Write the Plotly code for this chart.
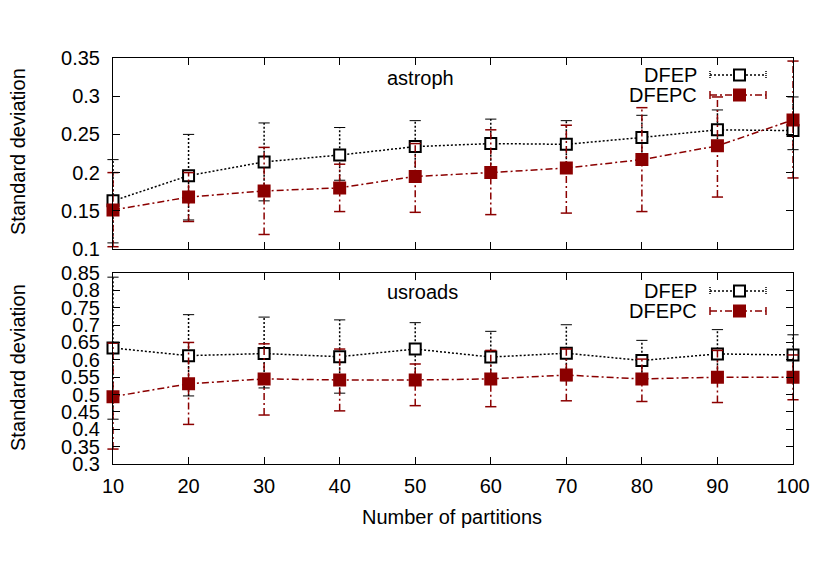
import plotly.graph_objects as go

partitions = [10, 20, 30, 40, 50, 60, 70, 80, 90, 100]

astro_dfep = [0.163, 0.196, 0.214, 0.223, 0.234, 0.238, 0.237, 0.246, 0.256, 0.255]
astro_dfep_hi = [0.217, 0.250, 0.265, 0.259, 0.268, 0.270, 0.268, 0.275, 0.282, 0.299]
astro_dfep_lo = [0.108, 0.138, 0.163, 0.190, 0.201, 0.205, 0.207, 0.216, 0.228, 0.230]
astro_dfepc = [0.151, 0.168, 0.176, 0.180, 0.195, 0.200, 0.206, 0.217, 0.235, 0.269]
astro_dfepc_hi = [0.200, 0.200, 0.233, 0.211, 0.238, 0.256, 0.262, 0.285, 0.299, 0.346]
astro_dfepc_lo = [0.103, 0.136, 0.119, 0.149, 0.148, 0.145, 0.147, 0.149, 0.168, 0.193]

roads_dfep = [0.634, 0.612, 0.618, 0.609, 0.631, 0.608, 0.619, 0.598, 0.617, 0.614]
roads_dfep_hi = [0.838, 0.730, 0.723, 0.715, 0.707, 0.682, 0.701, 0.656, 0.687, 0.672]
roads_dfep_lo = [0.429, 0.496, 0.519, 0.504, 0.550, 0.535, 0.540, 0.540, 0.550, 0.555]
roads_dfepc = [0.494, 0.531, 0.545, 0.542, 0.542, 0.545, 0.556, 0.545, 0.550, 0.550]
roads_dfepc_hi = [0.648, 0.650, 0.646, 0.631, 0.588, 0.627, 0.631, 0.602, 0.627, 0.614]
roads_dfepc_lo = [0.343, 0.414, 0.441, 0.453, 0.468, 0.465, 0.482, 0.480, 0.477, 0.485]

W, H = 830, 581
OFF = 8  # the page body margin shifts the figure
FONT = 'Liberation Sans, Arial, sans-serif'
FS = 20
RED = 'rgb(139, 0, 0)'
DOT = '2px,2px'
DASHDOT = '7px,3px,2px,3px'


def px(x):
    return (x - OFF) / W


def py(y):
    return 1 - (y - OFF) / H


def err_segments(xs, lo, hi):
    ex, ey = [], []
    for x, a, b in zip(xs, lo, hi):
        ex += [x, x, None]
        ey += [a, b, None]
    return ex, ey


def add_series(fig, xa, ya, ys, lo, hi, color, dash, symbol, fill):
    ex, ey = err_segments(partitions, lo, hi)
    fig.add_trace(go.Scatter(x=ex, y=ey, mode='lines', xaxis=xa, yaxis=ya,
                             line=dict(color=color, width=1.5, dash=dash),
                             cliponaxis=False, hoverinfo='skip', showlegend=False))
    fig.add_trace(go.Scatter(x=partitions + partitions, y=lo + hi, mode='markers',
                             xaxis=xa, yaxis=ya, cliponaxis=False,
                             marker=dict(symbol='line-ew', size=8,
                                         line=dict(color=color, width=1.5 if fill != 'white' else 1)),
                             hoverinfo='skip', showlegend=False))
    fig.add_trace(go.Scatter(x=partitions, y=ys, mode='lines+markers', xaxis=xa, yaxis=ya,
                             line=dict(color=color, width=1.5, dash=dash),
                             marker=dict(symbol=symbol, size=11, color=fill,
                                         line=dict(color=color, width=2)),
                             cliponaxis=False, showlegend=False))


fig = go.Figure()
add_series(fig, 'x', 'y', astro_dfep, astro_dfep_lo, astro_dfep_hi,
           'black', DOT, 'square', 'white')
add_series(fig, 'x', 'y', astro_dfepc, astro_dfepc_lo, astro_dfepc_hi,
           RED, DASHDOT, 'square', RED)
add_series(fig, 'x2', 'y2', roads_dfep, roads_dfep_lo, roads_dfep_hi,
           'black', DOT, 'square', 'white')
add_series(fig, 'x2', 'y2', roads_dfepc, roads_dfepc_lo, roads_dfepc_hi,
           RED, DASHDOT, 'square', RED)

axis_common = dict(showline=True, linecolor='black', linewidth=1, mirror='ticks',
                   ticks='inside', ticklen=7, tickcolor='black', showgrid=False,
                   zeroline=False, automargin=False,
                   tickfont=dict(family=FONT, size=FS, color='black'))

x_dom = [px(113), px(793)]
fig.update_layout(
    width=W, height=H,
    margin=dict(l=0, r=0, t=0, b=0),
    paper_bgcolor='white', plot_bgcolor='white',
    font=dict(family=FONT, size=FS, color='black'),
    xaxis=dict(domain=x_dom, anchor='y', range=[10, 100], dtick=10, tick0=10,
               showticklabels=False, **axis_common),
    yaxis=dict(domain=[py(249), py(58)], anchor='x', range=[0.1, 0.35], dtick=0.05,
               tick0=0.1, ticklabelstandoff=8, **axis_common),
    xaxis2=dict(domain=x_dom, anchor='y2', range=[10, 100], dtick=10, tick0=10,
                ticklabelstandoff=4, **axis_common),
    yaxis2=dict(domain=[py(464), py(273)], anchor='x2', range=[0.3, 0.85], dtick=0.05,
                tick0=0.3, ticklabelstandoff=8, **axis_common),
)

annotations = [
    dict(text='Standard deviation', x=px(18), y=py(152), textangle=-90),
    dict(text='Standard deviation', x=px(18), y=py(368), textangle=-90),
    dict(text='Number of partitions', x=px(452), y=py(517)),
    dict(text='astroph', x=px(385), y=py(78), xanchor='left'),
    dict(text='usroads', x=px(385), y=py(292), xanchor='left'),
]
shapes = []
for y_a, y_b in [(75, 95), (291, 311)]:
    for y0, name, color, dash, fill in [(y_a, 'DFEP', 'black', DOT, 'white'),
                                        (y_b, 'DFEPC', RED, DASHDOT, RED)]:
        annotations.append(dict(text=name, x=px(699), y=py(y0), xanchor='right'))
        shapes.append(dict(type='line', x0=px(710), x1=px(766), y0=py(y0), y1=py(y0),
                           line=dict(color=color, width=1.5, dash=dash)))
        for xe in (710, 766):
            shapes.append(dict(type='line', x0=px(xe), x1=px(xe), y0=py(y0 - 4),
                               y1=py(y0 + 4),
                               line=dict(color=color, width=1.5,
                                         dash='solid' if fill != 'white' else '1px,1px')))
        shapes.append(dict(type='rect', x0=px(734), x1=px(745), y0=py(y0 - 5.5),
                           y1=py(y0 + 5.5), fillcolor=fill,
                           line=dict(color=color, width=2)))

for s in shapes:
    s.update(xref='paper', yref='paper')
for a in annotations:
    a.update(xref='paper', yref='paper', showarrow=False,
             font=dict(family=FONT, size=FS, color='black'))
    a.setdefault('xanchor', 'center')
    a.setdefault('yanchor', 'middle')
fig.update_layout(annotations=annotations, shapes=shapes)

fig.write_html("out.html")
